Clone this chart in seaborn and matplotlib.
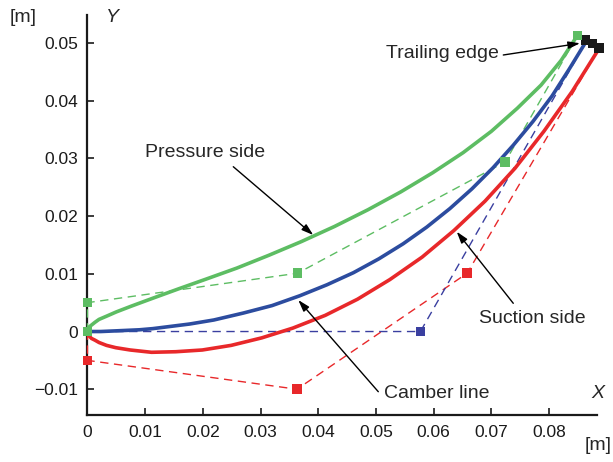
import numpy as np
import pandas as pd
import matplotlib
matplotlib.use("Agg")
import matplotlib.pyplot as plt
import seaborn as sns

sns.set_style("white")
plt.rcParams['font.family'] = ['Liberation Sans', 'DejaVu Sans']

# ---- data (metres) ----
# solid curves
pressure_x = [0, 0.0001, 0.0003, 0.0008, 0.0013, 0.0020, 0.0034, 0.0050, 0.0076, 0.0114, 0.0158,
              0.0206, 0.0259, 0.0314, 0.0371, 0.0428, 0.0486, 0.0543, 0.0598, 0.0651, 0.0700,
              0.0745, 0.0786, 0.0821, 0.0849]
pressure_y = [0, 0.0004, 0.0008, 0.0012, 0.0016, 0.0021, 0.0027, 0.0034, 0.0044, 0.0058, 0.0074,
              0.0091, 0.0110, 0.0132, 0.0156, 0.0182, 0.0211, 0.0242, 0.0275, 0.0310, 0.0347,
              0.0387, 0.0427, 0.0470, 0.0513]

suction_x = [0, 0.0001, 0.0003, 0.0007, 0.0013, 0.0020, 0.0033, 0.0049, 0.0074, 0.0111, 0.0153,
             0.0199, 0.0249, 0.0302, 0.0356, 0.0412, 0.0468, 0.0524, 0.0580, 0.0635, 0.0689,
             0.0741, 0.0791, 0.0840, 0.0887]
suction_y = [0, -0.0004, -0.0008, -0.0012, -0.0015, -0.0019, -0.0024, -0.0028, -0.0032, -0.0036,
             -0.0035, -0.0032, -0.0024, -0.0011, 0.0006, 0.0028, 0.0056, 0.0090, 0.0129, 0.0175,
             0.0226, 0.0283, 0.0347, 0.0416, 0.0491]

camber_x = [0, 0.0023, 0.0046, 0.0068, 0.0090, 0.0113, 0.0145, 0.0177, 0.0219, 0.0270, 0.0320,
            0.0368, 0.0415, 0.0461, 0.0505, 0.0547, 0.0588, 0.0628, 0.0666, 0.0703, 0.0738,
            0.0772, 0.0805, 0.0835, 0.0865]
camber_y = [0, 0, 0.0001, 0.0002, 0.0003, 0.0005, 0.0009, 0.0013, 0.0020, 0.0032, 0.0045,
            0.0062, 0.0081, 0.0102, 0.0126, 0.0152, 0.0181, 0.0213, 0.0247, 0.0284, 0.0323,
            0.0364, 0.0408, 0.0455, 0.0504]

# control polygons
pressure_cp_x = [0, 0, 0.0364, 0.0724, 0.0849]
pressure_cp_y = [0, 0.0050, 0.0101, 0.0294, 0.0513]
suction_cp_x = [0, 0, 0.0363, 0.0658, 0.0887]
suction_cp_y = [0, -0.0050, -0.0100, 0.0101, 0.0491]
camber_cp_x = [0, 0.0577, 0.0865]
camber_cp_y = [0, 0, 0.0504]

te_x = [0.0863, 0.0875, 0.0887]
te_y = [0.0505, 0.0499, 0.0491]

xticks = [0, 0.01, 0.02, 0.03, 0.04, 0.05, 0.06, 0.07, 0.08]
xtick_labels = ["0", "0.01", "0.02", "0.03", "0.04", "0.05", "0.06", "0.07", "0.08"]
yticks = [-0.01, 0, 0.01, 0.02, 0.03, 0.04, 0.05]
ytick_labels = ["\u22120.01", "0", "0.01", "0.02", "0.03", "0.04", "0.05"]

green = "#5dbd63"
red = "#e8282a"
blue = "#2c4c9f"
blue_cp = "#3a3fa0"

fig = plt.figure(figsize=(6.13, 4.62), dpi=100)
ax = fig.add_axes([0.1427, 0.1013, 0.8312, 0.8656])

# dashed control polygons
for xs, ys, c in [(pressure_cp_x, pressure_cp_y, green),
                  (suction_cp_x, suction_cp_y, red),
                  (camber_cp_x, camber_cp_y, blue_cp)]:
    df = pd.DataFrame({"x": xs, "y": ys})
    sns.lineplot(data=df, x="x", y="y", sort=False, estimator=None, ax=ax,
                 color=c, lw=1.0, linestyle=(0, (6, 4)), clip_on=False)

# solid curves
for xs, ys, c in [(pressure_x, pressure_y, green),
                  (camber_x, camber_y, blue),
                  (suction_x, suction_y, red)]:
    df = pd.DataFrame({"x": xs, "y": ys})
    sns.lineplot(data=df, x="x", y="y", sort=False, estimator=None, ax=ax,
                 color=c, lw=2.6, solid_joinstyle="round", solid_capstyle="round",
                 clip_on=False)

# control point markers
ms = 48
sns.scatterplot(x=camber_cp_x[1:2], y=camber_cp_y[1:2], ax=ax, marker="s", s=ms,
                color=blue_cp, edgecolor="none", zorder=5, clip_on=False)
sns.scatterplot(x=suction_cp_x[1:4], y=suction_cp_y[1:4], ax=ax, marker="s", s=ms,
                color=red, edgecolor="none", zorder=5, clip_on=False)
sns.scatterplot(x=te_x, y=te_y, ax=ax, marker="s", s=ms,
                color="#1a1a1a", edgecolor="none", zorder=5, clip_on=False)
sns.scatterplot(x=pressure_cp_x, y=pressure_cp_y, ax=ax, marker="s", s=ms,
                color=green, edgecolor="none", zorder=6, clip_on=False)

ax.set_xlim(0, 0.0883)
ax.set_ylim(-0.0145, 0.0548)
ax.set_xlabel("")
ax.set_ylabel("")
ax.set_xticks(xticks)
ax.set_xticklabels(xtick_labels)
ax.set_yticks(yticks)
ax.set_yticklabels(ytick_labels)
ax.tick_params(direction="in", length=5, width=1.2, labelsize=12.5, colors="#1a1a1a",
               bottom=True, left=True)
ax.tick_params(axis="x", pad=7)
ax.tick_params(axis="y", pad=7)
for s in ["top", "right"]:
    ax.spines[s].set_visible(False)
for s in ["left", "bottom"]:
    ax.spines[s].set_linewidth(1.6)
    ax.spines[s].set_color("#1a1a1a")
    ax.spines[s].set_zorder(1)
ax.patch.set_alpha(0)

# annotations
arrow = dict(arrowstyle="-|>,head_length=0.7,head_width=0.22", color="black", lw=1.0,
             shrinkA=0, shrinkB=0)
fs = 14
ax.annotate("", xy=(0.03913, 0.01672), xytext=(0.02527, 0.02856), arrowprops=arrow)
ax.text(0.02036, 0.0311, "Pressure side", fontsize=fs, ha="center", va="center")
ax.annotate("", xy=(0.08536, 0.04995), xytext=(0.07206, 0.04792), arrowprops=arrow)
ax.text(0.0616, 0.0481, "Trailing edge", fontsize=fs, ha="center", va="center")
ax.annotate("", xy=(0.06399, 0.0173), xytext=(0.07379, 0.00489), arrowprops=arrow)
ax.text(0.07704, 0.00234, "Suction side", fontsize=fs, ha="center", va="center")
ax.annotate("", xy=(0.03653, 0.00546), xytext=(0.0504, -0.01043), arrowprops=arrow)
ax.text(0.06057, -0.01066, "Camber line", fontsize=fs, ha="center", va="center")

fig.text(23.5 / 613, 1 - 18 / 462, "[m]", fontsize=14, ha="center", va="center")
fig.text(598.5 / 613, 1 - 446 / 462, "[m]", fontsize=14, ha="center", va="center")
fig.text(112 / 613, 1 - 17 / 462, "Y", fontsize=14, style="italic", ha="center", va="center")
fig.text(598 / 613, 1 - 394 / 462, "X", fontsize=14, style="italic", ha="center", va="center")

fig.savefig("out.png", dpi=100)
